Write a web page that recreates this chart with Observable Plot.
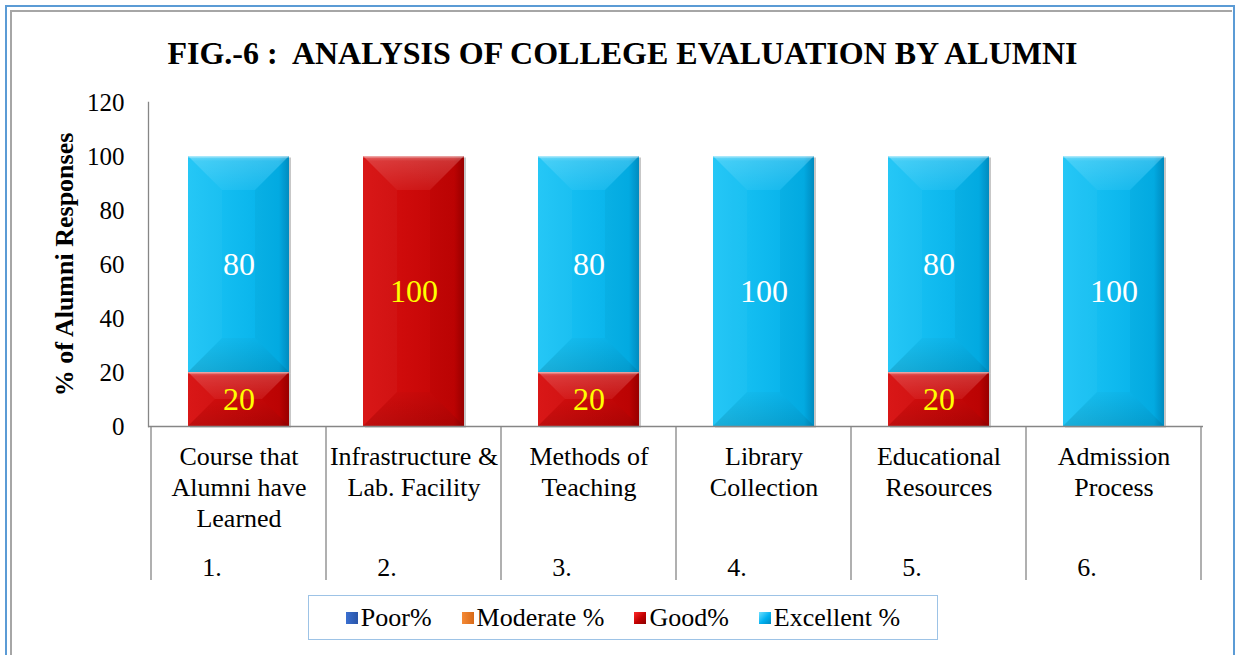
<!DOCTYPE html>
<html>
<head>
<meta charset="utf-8">
<script src="https://cdn.jsdelivr.net/npm/d3@7"></script>
<script src="https://cdn.jsdelivr.net/npm/@observablehq/plot@0.6"></script>
<style>
  html, body { margin: 0; padding: 0; background: #fff; overflow: hidden; }
  #page { position: relative; width: 1237px; height: 655px; font-family: "Liberation Serif", "Times New Roman", serif; }
  #outer { position: absolute; left: 5px; top: 5px; width: 1230px; height: 720px; box-sizing: border-box; border: 2px solid #5b9bd5; }
  #inner { position: absolute; left: 10px; top: 10px; width: 1222px; height: 720px; box-sizing: border-box; border-left: 2px solid #a6a6a6; border-top: 2px solid #a6a6a6; }
  #title { position: absolute; left: 4px; top: 38px; width: 1237px; text-align: center; font-weight: bold; font-size: 32px; line-height: 31px; white-space: pre; color: #000; }
  #chart { position: absolute; left: 0; top: 0; }
  #chart svg, #chart svg text { font-family: "Liberation Serif", "Times New Roman", serif !important; }
  #legend { position: absolute; left: 308px; top: 595px; width: 630px; height: 45px; box-sizing: border-box; border: 1px solid #9dc3e6; background: #fff;
            display: flex; align-items: center; justify-content: center; gap: 30px; font-size: 26px; color: #000; }
  .item { display: flex; align-items: center; gap: 3px; }
  .sw { width: 12px; height: 12px; display: inline-block; }
</style>
</head>
<body>
<svg width="0" height="0" style="position:absolute">
  <defs>
    <linearGradient id="gPoor" x1="0" y1="0" x2="1" y2="0"><stop offset="0" stop-color="#3a6fd0"/><stop offset="1" stop-color="#2a55a8"/></linearGradient>
    <linearGradient id="gModerate" x1="0" y1="0" x2="1" y2="0"><stop offset="0" stop-color="#f58a36"/><stop offset="1" stop-color="#d86a18"/></linearGradient>
    <linearGradient id="gGood" x1="0" y1="0" x2="1" y2="0">
      <stop offset="0" stop-color="#d81010"/><stop offset="0.9" stop-color="#c20404"/><stop offset="1" stop-color="#9e0000"/>
    </linearGradient>
    <linearGradient id="gExcellent" x1="0" y1="0" x2="1" y2="0">
      <stop offset="0" stop-color="#1ec6f6"/><stop offset="0.9" stop-color="#03b0e9"/><stop offset="1" stop-color="#0090c6"/>
    </linearGradient>
    <linearGradient id="bevTop" x1="0" y1="0" x2="0" y2="1">
      <stop offset="0" stop-color="#fff" stop-opacity="0.38"/><stop offset="0.15" stop-color="#fff" stop-opacity="0.18"/><stop offset="1" stop-color="#fff" stop-opacity="0.06"/>
    </linearGradient>
    <linearGradient id="bevBot" x1="0" y1="0" x2="0" y2="1">
      <stop offset="0" stop-color="#000" stop-opacity="0.02"/><stop offset="1" stop-color="#000" stop-opacity="0.12"/>
    </linearGradient>
  </defs>
</svg>
<div id="page">
  <div id="outer"></div>
  <div id="inner"></div>
  <div id="title">FIG.-6 :  ANALYSIS OF COLLEGE EVALUATION BY ALUMNI</div>
  <div id="chart"></div>
  <div id="legend"></div>
</div>
<script>
// ---- data ----
const categories = ["Course that\nAlumni have\nLearned", "Infrastructure &\nLab. Facility", "Methods of\nTeaching", "Library\nCollection", "Educational\nResources", "Admission\nProcess"];
const categoryNumbers = ["1.", "2.", "3.", "4.", "5.", "6."];
const seriesNames = ["Poor%", "Moderate %", "Good%", "Excellent %"];
const poor = [0, 0, 0, 0, 0, 0];
const moderate = [0, 0, 0, 0, 0, 0];
const good = [20, 100, 20, 0, 20, 0];
const excellent = [80, 0, 80, 100, 80, 100];
const yTicks = [0, 20, 40, 60, 80, 100, 120];
const yLabel = "% of Alumni Responses";

// ---- styling ----
const fills = {"Poor%": "url(#gPoor)", "Moderate %": "url(#gModerate)", "Good%": "url(#gGood)", "Excellent %": "url(#gExcellent)"};
const labelColors = {"Poor%": "#ffffff", "Moderate %": "#ffffff", "Good%": "#ffff00", "Excellent %": "#ffffff"};
const swatch = {"Poor%": "linear-gradient(90deg,#3a6fd0,#2a55a8)", "Moderate %": "linear-gradient(90deg,#f58a36,#d86a18)", "Good%": "linear-gradient(135deg,#ff2a2a,#c00000 55%,#8a0000)", "Excellent %": "linear-gradient(135deg,#6fe0ff,#00b0f0 55%,#0088c0)"};
const serif = "Liberation Serif, Times New Roman, serif";

const valuesBySeries = [poor, moderate, good, excellent];
const long = [];
seriesNames.forEach((s, si) => categories.forEach((c, ci) => long.push({cat: c, series: s, value: valuesBySeries[si][ci]})));

const W = 1237, H = 600, mL = 148, mR = 34, mT = 102, mB = 174;

const chart = Plot.plot({
  width: W, height: H,
  marginLeft: mL, marginRight: mR, marginTop: mT, marginBottom: mB,
  style: {background: "transparent", fontFamily: serif, fontSize: "25px", color: "#000"},
  x: {domain: categories, paddingInner: 0.425, paddingOuter: 0.2125, axis: null},
  y: {domain: [0, 120], axis: null},
  color: {type: "identity"},
  marks: [
    Plot.axisY({ticks: yTicks, tickSize: 0, tickPadding: 24, fontSize: 25, fill: "#000", label: null}),
    Plot.barY(long, Plot.stackY({x: "cat", y: "value", z: "series", fill: d => fills[d.series], className: "bars"})),
    Plot.text(long, Plot.stackY({x: "cat", y: "value", z: "series", text: d => d.value > 0 ? String(d.value) : null, fill: d => labelColors[d.series], fontSize: 32, className: "vals"})),
    Plot.ruleY([0], {stroke: "#868686", strokeWidth: 1.3}),
    Plot.frame({anchor: "left", stroke: "#868686", strokeWidth: 1.3}),
    Plot.text(categories, {x: d => d, frameAnchor: "bottom", dy: 17, lineAnchor: "top", lineHeight: 1.19, fontSize: 26, fill: "#000"}),
    Plot.text(categories, {x: d => d, text: (d, i) => categoryNumbers[i], frameAnchor: "bottom", dy: 131, dx: -27, lineAnchor: "top", fontSize: 26, fill: "#000"}),
    Plot.text([yLabel], {frameAnchor: "left", dx: -84, rotate: -90, textAnchor: "middle", fontSize: 26, fontWeight: "bold", fill: "#000"})
  ]
});

// bevel decoration on each drawn bar rect (Excel "bevel" look)
const svg = d3.select(chart);
const barsG = svg.select("g.bars");
// soft drop shadow behind each stacked column
const shadowG = barsG.insert("g", ":first-child");
svg.selectAll("g.bars rect").each(function () {
  const r = d3.select(this);
  const x = +r.attr("x"), y = +r.attr("y"), w = +r.attr("width"), h = +r.attr("height");
  if (!(w > 0 && h > 0)) return;
  shadowG.append("rect").attr("x", x + 2).attr("y", y + 1.5).attr("width", w).attr("height", h).attr("fill", "#000").attr("fill-opacity", 0.22);
  const b = Math.min(34, w / 2, h / 2);
  const g = d3.select(this.parentNode).insert("g", () => this.nextSibling);
  const poly = (pts, fill, op) => g.append("polygon").attr("points", pts.map(p => p.join(",")).join(" ")).attr("fill", fill).attr("fill-opacity", op);
  poly([[x, y], [x + w, y], [x + w - b, y + b], [x + b, y + b]], "url(#bevTop)", 1);
  poly([[x, y + h], [x + w, y + h], [x + w - b, y + h - b], [x + b, y + h - b]], "url(#bevBot)", 1);
  poly([[x, y], [x + b, y + b], [x + b, y + h - b], [x, y + h]], "#fff", 0.03);
  poly([[x + w, y], [x + w - b, y + b], [x + w - b, y + h - b], [x + w, y + h]], "#000", 0.03);
  g.append("line").attr("x1", x).attr("x2", x + w).attr("y1", y + 0.75).attr("y2", y + 0.75).attr("stroke", "#fff").attr("stroke-opacity", 0.4).attr("stroke-width", 1.5);
});
// keep value labels above the bevel decorations
svg.selectAll("g.vals").raise();

// category separators in the two-level axis region
const xs = chart.scale("x");
const sep = svg.append("g").attr("stroke", "#868686").attr("stroke-width", 1.3);
const bounds = categories.map(c => xs.apply(c) + xs.bandwidth / 2 - xs.step / 2);
bounds.push(bounds[bounds.length - 1] + xs.step);
bounds.forEach(b => sep.append("line").attr("x1", b).attr("x2", b).attr("y1", H - mB).attr("y2", 580));

document.getElementById("chart").appendChild(chart);

// legend
const lg = d3.select("#legend");
seriesNames.forEach(s => {
  const it = lg.append("div").attr("class", "item");
  it.append("span").attr("class", "sw").style("background", swatch[s]);
  it.append("span").text(s);
});
</script>
</body>
</html>
